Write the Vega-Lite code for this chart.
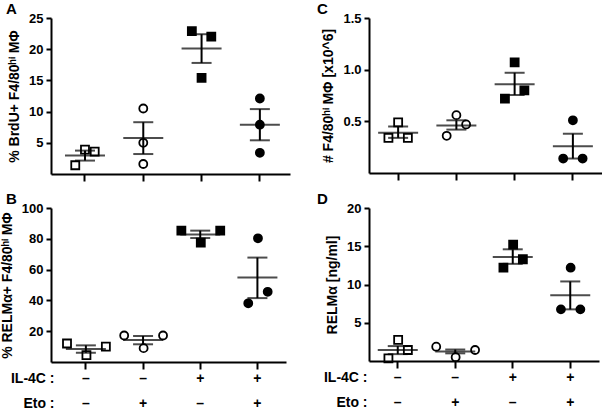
{
  "$schema": "https://vega.github.io/schema/vega-lite/v6.json",
  "padding": {"left": 0, "top": 2, "right": 0, "bottom": 0},
  "background": "white",
  "config": {
    "font": "Liberation Sans",
    "view": {"stroke": null},
    "axis": {"domainColor": "black", "domainWidth": 2, "tickColor": "black", "tickWidth": 2, "grid": false, "labelOverlap": false,
      "labelFont": "Liberation Sans", "labelFontWeight": "bold", "labelFontSize": 13, "labelColor": "black",
      "titleFont": "Liberation Sans", "titleFontWeight": "bold", "titleFontSize": 14, "titleColor": "black"},
    "axisY": {"tickSize": 5, "labelPadding": 3, "titlePadding": 7},
    "axisX": {"tickSize": 7},
    "title": {"fontSize": 15, "fontWeight": "bold", "anchor": "start", "frame": "group", "color": "black", "font": "Liberation Sans", "offset": 0}
  },
  "datasets": {
    "pts": [
      {"panel": "A", "group": "–/–", "slot": 0, "value": 3.9},
      {"panel": "A", "group": "–/–", "slot": 1, "value": 3.6},
      {"panel": "A", "group": "–/–", "slot": -1, "value": 1.4},
      {"panel": "A", "group": "–/+", "slot": 0, "value": 10.5},
      {"panel": "A", "group": "–/+", "slot": 0, "value": 5.0},
      {"panel": "A", "group": "–/+", "slot": 0, "value": 1.6},
      {"panel": "A", "group": "+/–", "slot": -1, "value": 22.9},
      {"panel": "A", "group": "+/–", "slot": 1, "value": 22.0},
      {"panel": "A", "group": "+/–", "slot": 0, "value": 15.4},
      {"panel": "A", "group": "+/+", "slot": 0, "value": 12.1},
      {"panel": "A", "group": "+/+", "slot": 0, "value": 7.9},
      {"panel": "A", "group": "+/+", "slot": 0, "value": 3.4},
      {"panel": "B", "group": "–/–", "slot": -2, "value": 12.0},
      {"panel": "B", "group": "–/–", "slot": 2, "value": 10.0},
      {"panel": "B", "group": "–/–", "slot": 0, "value": 4.5},
      {"panel": "B", "group": "–/+", "slot": -2, "value": 17.2},
      {"panel": "B", "group": "–/+", "slot": 2, "value": 17.2},
      {"panel": "B", "group": "–/+", "slot": 0, "value": 9.0},
      {"panel": "B", "group": "+/–", "slot": -2, "value": 85.3},
      {"panel": "B", "group": "+/–", "slot": 2, "value": 85.3},
      {"panel": "B", "group": "+/–", "slot": 0, "value": 77.5},
      {"panel": "B", "group": "+/+", "slot": 0, "value": 80.3},
      {"panel": "B", "group": "+/+", "slot": 1, "value": 45.6},
      {"panel": "B", "group": "+/+", "slot": -1, "value": 38.1},
      {"panel": "C", "group": "–/–", "slot": 0, "value": 0.49},
      {"panel": "C", "group": "–/–", "slot": -1, "value": 0.34},
      {"panel": "C", "group": "–/–", "slot": 1, "value": 0.34},
      {"panel": "C", "group": "–/+", "slot": 0, "value": 0.56},
      {"panel": "C", "group": "–/+", "slot": 1, "value": 0.47},
      {"panel": "C", "group": "–/+", "slot": -1, "value": 0.36},
      {"panel": "C", "group": "+/–", "slot": 0, "value": 1.07},
      {"panel": "C", "group": "+/–", "slot": 1, "value": 0.8},
      {"panel": "C", "group": "+/–", "slot": -1, "value": 0.72},
      {"panel": "C", "group": "+/+", "slot": 0, "value": 0.51},
      {"panel": "C", "group": "+/+", "slot": -1, "value": 0.14},
      {"panel": "C", "group": "+/+", "slot": 1, "value": 0.14},
      {"panel": "D", "group": "–/–", "slot": 0, "value": 2.75},
      {"panel": "D", "group": "–/–", "slot": 1, "value": 1.44},
      {"panel": "D", "group": "–/–", "slot": -1, "value": 0.35},
      {"panel": "D", "group": "–/+", "slot": -2, "value": 1.87},
      {"panel": "D", "group": "–/+", "slot": 2, "value": 1.44},
      {"panel": "D", "group": "–/+", "slot": 0, "value": 0.5},
      {"panel": "D", "group": "+/–", "slot": 0, "value": 15.2},
      {"panel": "D", "group": "+/–", "slot": 1, "value": 13.3},
      {"panel": "D", "group": "+/–", "slot": -1, "value": 12.2},
      {"panel": "D", "group": "+/+", "slot": 0, "value": 12.2},
      {"panel": "D", "group": "+/+", "slot": -1, "value": 6.75},
      {"panel": "D", "group": "+/+", "slot": 1, "value": 6.75}
    ],
    "sum": [
      {"panel": "A", "group": "–/–", "mean": 2.95, "lo": 2.15, "hi": 3.75},
      {"panel": "A", "group": "–/+", "mean": 5.75, "lo": 3.2, "hi": 8.3},
      {"panel": "A", "group": "+/–", "mean": 20.1, "lo": 17.8, "hi": 22.4},
      {"panel": "A", "group": "+/+", "mean": 7.9, "lo": 5.4, "hi": 10.4},
      {"panel": "B", "group": "–/–", "mean": 8.5, "lo": 6.0, "hi": 10.8},
      {"panel": "B", "group": "–/+", "mean": 14.3, "lo": 11.5, "hi": 16.9},
      {"panel": "B", "group": "+/–", "mean": 82.8, "lo": 80.5, "hi": 85.3},
      {"panel": "B", "group": "+/+", "mean": 54.8, "lo": 41.5, "hi": 67.8},
      {"panel": "C", "group": "–/–", "mean": 0.39, "lo": 0.34, "hi": 0.45},
      {"panel": "C", "group": "–/+", "mean": 0.46, "lo": 0.42, "hi": 0.51},
      {"panel": "C", "group": "+/–", "mean": 0.86, "lo": 0.755, "hi": 0.97},
      {"panel": "C", "group": "+/+", "mean": 0.26, "lo": 0.14, "hi": 0.38},
      {"panel": "D", "group": "–/–", "mean": 1.45, "lo": 0.9, "hi": 1.95},
      {"panel": "D", "group": "–/+", "mean": 1.25, "lo": 1.0, "hi": 1.5},
      {"panel": "D", "group": "+/–", "mean": 13.6, "lo": 12.7, "hi": 14.6},
      {"panel": "D", "group": "+/+", "mean": 8.6, "lo": 6.75, "hi": 10.4}
    ]
  },
  "columns": 2,
  "bounds": "flush",
  "spacing": {"row": 34, "column": 79},
  "concat": [
    {
      "width": 239, "height": 156,
      "title": {"text": "A", "dx": -45, "dy": 9},
      "layer": [
        {"data": {"name": "sum"}, "transform": [{"filter": "datum.panel === 'A'"}],
          "mark": {"type": "rule", "strokeWidth": 2, "color": "black"},
          "encoding": {
            "x": {"field": "group", "type": "nominal", "bandPosition": 0.5, "scale": {"domain": ["–/–", "–/+", "+/–", "+/+"], "paddingInner": 0, "paddingOuter": 0.05, "align": 0.83}, "axis": {"labels": false, "title": null}},
            "y": {"field": "lo", "type": "quantitative", "title": "% BrdU+ F4/80ʰⁱ MΦ", "scale": {"domain": [0, 25], "nice": false}, "axis": {"values": [5, 10, 15, 20, 25], "tickCount": 20, "labelOverlap": false}},
            "y2": {"field": "hi"}}},
        {"data": {"name": "sum"}, "transform": [{"filter": "datum.panel === 'A'"}],
          "mark": {"type": "tick", "size": 20, "thickness": 2, "color": "black"},
          "encoding": {"x": {"field": "group", "type": "nominal"}, "y": {"field": "lo", "type": "quantitative", "title": "% BrdU+ F4/80ʰⁱ MΦ"}}},
        {"data": {"name": "sum"}, "transform": [{"filter": "datum.panel === 'A'"}],
          "mark": {"type": "tick", "size": 20, "thickness": 2, "color": "black"},
          "encoding": {"x": {"field": "group", "type": "nominal"}, "y": {"field": "hi", "type": "quantitative", "title": "% BrdU+ F4/80ʰⁱ MΦ"}}},
        {"data": {"name": "sum"}, "transform": [{"filter": "datum.panel === 'A'"}],
          "mark": {"type": "tick", "size": 40, "thickness": 2, "color": "black"},
          "encoding": {"x": {"field": "group", "type": "nominal"}, "y": {"field": "mean", "type": "quantitative", "title": "% BrdU+ F4/80ʰⁱ MΦ"}}},
        {"data": {"name": "pts"}, "transform": [{"filter": "datum.panel === 'A'"}],
          "mark": {"type": "point", "filled": true, "size": 64, "stroke": "black", "strokeWidth": 1.8, "opacity": 1},
          "encoding": {
            "x": {"field": "group", "type": "nominal"},
            "xOffset": {"field": "slot", "type": "nominal", "scale": {"domain": [-2, -1, 0, 1, 2], "paddingInner": 0, "paddingOuter": 2}},
            "y": {"field": "value", "type": "quantitative", "title": "% BrdU+ F4/80ʰⁱ MΦ"},
            "shape": {"field": "group", "type": "nominal", "scale": {"domain": ["–/–", "–/+", "+/–", "+/+"], "range": ["square", "circle", "square", "circle"]}, "legend": null},
            "fill": {"field": "group", "type": "nominal", "scale": {"domain": ["–/–", "–/+", "+/–", "+/+"], "range": ["transparent", "transparent", "black", "black"]}, "legend": null}}}
      ]
    },
    {
      "width": 233, "height": 155,
      "title": {"text": "C", "dx": -52, "dy": 9},
      "layer": [
        {"data": {"name": "sum"}, "transform": [{"filter": "datum.panel === 'C'"}],
          "mark": {"type": "rule", "strokeWidth": 2, "color": "black"},
          "encoding": {
            "x": {"field": "group", "type": "nominal", "bandPosition": 0.5, "scale": {"domain": ["–/–", "–/+", "+/–", "+/+"], "paddingInner": 0, "paddingOuter": 0}, "axis": {"labels": false, "title": null}},
            "y": {"field": "lo", "type": "quantitative", "title": "# F4/80ʰⁱ MΦ [x10^6]", "scale": {"domain": [0, 1.5], "nice": false}, "axis": {"values": [0.5, 1.0, 1.5], "tickCount": 20, "format": ".1f", "labelOverlap": false}},
            "y2": {"field": "hi"}}},
        {"data": {"name": "sum"}, "transform": [{"filter": "datum.panel === 'C'"}],
          "mark": {"type": "tick", "size": 20, "thickness": 2, "color": "black"},
          "encoding": {"x": {"field": "group", "type": "nominal"}, "y": {"field": "lo", "type": "quantitative", "title": "# F4/80ʰⁱ MΦ [x10^6]"}}},
        {"data": {"name": "sum"}, "transform": [{"filter": "datum.panel === 'C'"}],
          "mark": {"type": "tick", "size": 20, "thickness": 2, "color": "black"},
          "encoding": {"x": {"field": "group", "type": "nominal"}, "y": {"field": "hi", "type": "quantitative", "title": "# F4/80ʰⁱ MΦ [x10^6]"}}},
        {"data": {"name": "sum"}, "transform": [{"filter": "datum.panel === 'C'"}],
          "mark": {"type": "tick", "size": 40, "thickness": 2, "color": "black"},
          "encoding": {"x": {"field": "group", "type": "nominal"}, "y": {"field": "mean", "type": "quantitative", "title": "# F4/80ʰⁱ MΦ [x10^6]"}}},
        {"data": {"name": "pts"}, "transform": [{"filter": "datum.panel === 'C'"}],
          "mark": {"type": "point", "filled": true, "size": 64, "stroke": "black", "strokeWidth": 1.8, "opacity": 1},
          "encoding": {
            "x": {"field": "group", "type": "nominal"},
            "xOffset": {"field": "slot", "type": "nominal", "scale": {"domain": [-2, -1, 0, 1, 2], "paddingInner": 0, "paddingOuter": 2}},
            "y": {"field": "value", "type": "quantitative", "title": "# F4/80ʰⁱ MΦ [x10^6]"},
            "shape": {"field": "group", "type": "nominal", "scale": {"domain": ["–/–", "–/+", "+/–", "+/+"], "range": ["square", "circle", "square", "circle"]}, "legend": null},
            "fill": {"field": "group", "type": "nominal", "scale": {"domain": ["–/–", "–/+", "+/–", "+/+"], "range": ["transparent", "transparent", "black", "black"]}, "legend": null}}}
      ]
    },
    {
      "width": 235, "height": 154,
      "title": {"text": "B", "dx": -45, "dy": 9},
      "layer": [
        {"data": {"name": "sum"}, "transform": [{"filter": "datum.panel === 'B'"}],
          "mark": {"type": "rule", "strokeWidth": 2, "color": "black"},
          "encoding": {
            "x": {"field": "group", "type": "nominal", "bandPosition": 0.5, "scale": {"domain": ["–/–", "–/+", "+/–", "+/+"], "paddingInner": 0, "paddingOuter": 0.055, "align": 1},
              "axis": {"labelExpr": "split(datum.value, '/')", "labelFontSize": 14, "labelLineHeight": 25, "labelPadding": 2, "labelBaseline": "top", "labelAngle": 0,
                "title": ["IL-4C :", "Eto :"], "titleFontSize": 14, "titleLineHeight": 25, "titleAlign": "right", "titleBaseline": "top", "titleAngle": 0, "titleX": 3, "titleY": 9}},
            "y": {"field": "lo", "type": "quantitative", "title": "% RELMα+ F4/80ʰⁱ MΦ", "scale": {"domain": [0, 100], "nice": false}, "axis": {"values": [20, 40, 60, 80, 100], "tickCount": 20, "labelOverlap": false}},
            "y2": {"field": "hi"}}},
        {"data": {"name": "sum"}, "transform": [{"filter": "datum.panel === 'B'"}],
          "mark": {"type": "tick", "size": 20, "thickness": 2, "color": "black"},
          "encoding": {"x": {"field": "group", "type": "nominal"}, "y": {"field": "lo", "type": "quantitative", "title": "% RELMα+ F4/80ʰⁱ MΦ"}}},
        {"data": {"name": "sum"}, "transform": [{"filter": "datum.panel === 'B'"}],
          "mark": {"type": "tick", "size": 20, "thickness": 2, "color": "black"},
          "encoding": {"x": {"field": "group", "type": "nominal"}, "y": {"field": "hi", "type": "quantitative", "title": "% RELMα+ F4/80ʰⁱ MΦ"}}},
        {"data": {"name": "sum"}, "transform": [{"filter": "datum.panel === 'B'"}],
          "mark": {"type": "tick", "size": 40, "thickness": 2, "color": "black"},
          "encoding": {"x": {"field": "group", "type": "nominal"}, "y": {"field": "mean", "type": "quantitative", "title": "% RELMα+ F4/80ʰⁱ MΦ"}}},
        {"data": {"name": "pts"}, "transform": [{"filter": "datum.panel === 'B'"}],
          "mark": {"type": "point", "filled": true, "size": 64, "stroke": "black", "strokeWidth": 1.8, "opacity": 1},
          "encoding": {
            "x": {"field": "group", "type": "nominal"},
            "xOffset": {"field": "slot", "type": "nominal", "scale": {"domain": [-2, -1, 0, 1, 2], "paddingInner": 0, "paddingOuter": 2}},
            "y": {"field": "value", "type": "quantitative", "title": "% RELMα+ F4/80ʰⁱ MΦ"},
            "shape": {"field": "group", "type": "nominal", "scale": {"domain": ["–/–", "–/+", "+/–", "+/+"], "range": ["square", "circle", "square", "circle"]}, "legend": null},
            "fill": {"field": "group", "type": "nominal", "scale": {"domain": ["–/–", "–/+", "+/–", "+/+"], "range": ["transparent", "transparent", "black", "black"]}, "legend": null}}}
      ]
    },
    {
      "width": 230, "height": 153,
      "title": {"text": "D", "dx": -52, "dy": 9},
      "layer": [
        {"data": {"name": "sum"}, "transform": [{"filter": "datum.panel === 'D'"}],
          "mark": {"type": "rule", "strokeWidth": 2, "color": "black"},
          "encoding": {
            "x": {"field": "group", "type": "nominal", "bandPosition": 0.5, "scale": {"domain": ["–/–", "–/+", "+/–", "+/+"], "paddingInner": 0, "paddingOuter": 0},
              "axis": {"labelExpr": "split(datum.value, '/')", "labelFontSize": 14, "labelLineHeight": 25, "labelPadding": 2, "labelBaseline": "top", "labelAngle": 0,
                "title": ["IL-4C :", "Eto :"], "titleFontSize": 14, "titleLineHeight": 25, "titleAlign": "right", "titleBaseline": "top", "titleAngle": 0, "titleX": -2, "titleY": 9}},
            "y": {"field": "lo", "type": "quantitative", "title": "RELMα [ng/ml]", "scale": {"domain": [0, 20], "nice": false}, "axis": {"values": [5, 10, 15, 20], "tickCount": 20, "labelOverlap": false}},
            "y2": {"field": "hi"}}},
        {"data": {"name": "sum"}, "transform": [{"filter": "datum.panel === 'D'"}],
          "mark": {"type": "tick", "size": 20, "thickness": 2, "color": "black"},
          "encoding": {"x": {"field": "group", "type": "nominal"}, "y": {"field": "lo", "type": "quantitative", "title": "RELMα [ng/ml]"}}},
        {"data": {"name": "sum"}, "transform": [{"filter": "datum.panel === 'D'"}],
          "mark": {"type": "tick", "size": 20, "thickness": 2, "color": "black"},
          "encoding": {"x": {"field": "group", "type": "nominal"}, "y": {"field": "hi", "type": "quantitative", "title": "RELMα [ng/ml]"}}},
        {"data": {"name": "sum"}, "transform": [{"filter": "datum.panel === 'D'"}],
          "mark": {"type": "tick", "size": 40, "thickness": 2, "color": "black"},
          "encoding": {"x": {"field": "group", "type": "nominal"}, "y": {"field": "mean", "type": "quantitative", "title": "RELMα [ng/ml]"}}},
        {"data": {"name": "pts"}, "transform": [{"filter": "datum.panel === 'D'"}],
          "mark": {"type": "point", "filled": true, "size": 64, "stroke": "black", "strokeWidth": 1.8, "opacity": 1},
          "encoding": {
            "x": {"field": "group", "type": "nominal"},
            "xOffset": {"field": "slot", "type": "nominal", "scale": {"domain": [-2, -1, 0, 1, 2], "paddingInner": 0, "paddingOuter": 2}},
            "y": {"field": "value", "type": "quantitative", "title": "RELMα [ng/ml]"},
            "shape": {"field": "group", "type": "nominal", "scale": {"domain": ["–/–", "–/+", "+/–", "+/+"], "range": ["square", "circle", "square", "circle"]}, "legend": null},
            "fill": {"field": "group", "type": "nominal", "scale": {"domain": ["–/–", "–/+", "+/–", "+/+"], "range": ["transparent", "transparent", "black", "black"]}, "legend": null}}}
      ]
    }
  ]
}
